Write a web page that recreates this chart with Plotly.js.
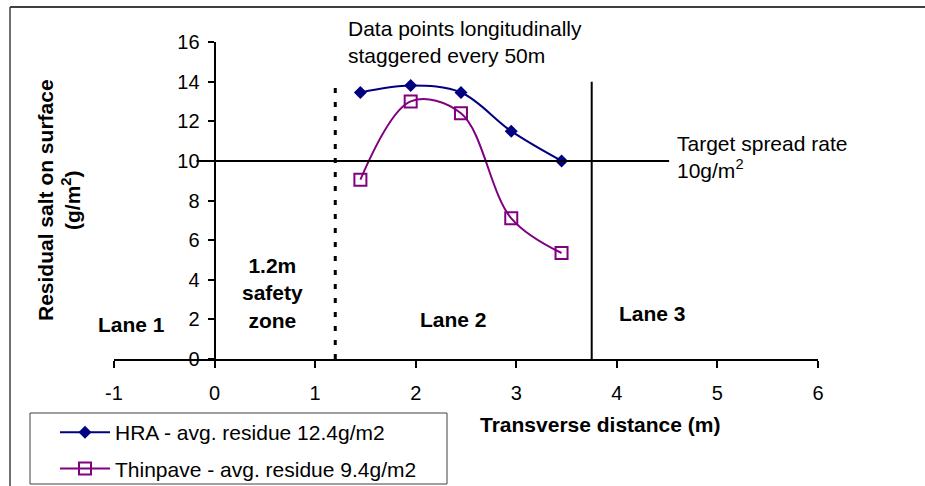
<!DOCTYPE html>
<html>
<head>
<meta charset="utf-8">
<script src="https://cdn.plot.ly/plotly-3.0.1.min.js"></script>
<style>html,body{margin:0;padding:0;background:#fff;}#chart{width:925px;height:486px;}</style>
</head>
<body>
<div id="chart"></div>
<script>
// ---- data ----
const transverseDistance = [1.45, 1.95, 2.45, 2.95, 3.45];
const hraResidue = [13.45, 13.8, 13.45, 11.5, 10.0];
const thinpaveResidue = [9.05, 13.0, 12.4, 7.1, 5.35];
const seriesNames = ["HRA - avg. residue 12.4g/m2", "Thinpave - avg. residue 9.4g/m2"];
const xTickValues = [-1, 0, 1, 2, 3, 4, 5, 6];
const yTickValues = [0, 2, 4, 6, 8, 10, 12, 14, 16];
const targetSpreadRate = 10;
const targetLineX = [-0.18, 4.52];
const safetyZoneEdge = 1.2;
const laneBoundary = 3.75;
const markerLineTop = 14;

// ---- layout helpers (pixel -> paper) ----
const W = 925, H = 486;
const M = {l: 114, r: 107, t: 42, b: 127, autoexpand: false};
const PW = W - M.l - M.r, PH = H - M.t - M.b;
const px = v => (v - M.l) / PW;
const py = v => (H - M.b - v) / PH;

const FONT = "Liberation Sans, Arial, sans-serif";

const traces = [
  {
    x: transverseDistance, y: hraResidue, name: seriesNames[0], legendgroup: "hra",
    type: "scatter", mode: "lines+markers",
    line: {color: "#000080", width: 2, shape: "spline", smoothing: 1},
    marker: {symbol: "diamond", size: 10, color: "#000080", line: {width: 0}}
  },
  {
    x: transverseDistance, y: thinpaveResidue, name: seriesNames[1], legendgroup: "thin",
    type: "scatter", mode: "lines+markers",
    line: {color: "#800080", width: 2, shape: "spline", smoothing: 1},
    marker: {symbol: "square-open", size: 12, color: "#800080", line: {width: 2, color: "#800080"}}
  }
];

const boldF = {family: FONT, size: 21, color: "#000"};
const regF = {family: FONT, size: 21, color: "#000"};

const annotations = [
  {x: 1.31, y: 16.0, xref: "x", yref: "y", text: "Data points longitudinally<br>staggered every 50m",
   showarrow: false, xanchor: "left", yanchor: "middle", align: "left", font: regF},
  {x: 4.58, y: 10.2, xref: "x", yref: "y", text: "Target spread rate<br>10g/m<sup>2</sup>",
   showarrow: false, xanchor: "left", yanchor: "middle", align: "left", font: regF},
  {x: -0.826, y: 1.72, xref: "x", yref: "y", text: "<b>Lane 1</b>", showarrow: false,
   xanchor: "center", yanchor: "middle", font: boldF},
  {x: 0.577, y: 3.33, xref: "x", yref: "y", text: "<b>1.2m<br>safety<br>zone</b>", showarrow: false,
   xanchor: "center", yanchor: "middle", font: boldF},
  {x: 2.38, y: 2.0, xref: "x", yref: "y", text: "<b>Lane 2</b>", showarrow: false,
   xanchor: "center", yanchor: "middle", font: boldF},
  {x: 4.35, y: 2.32, xref: "x", yref: "y", text: "<b>Lane 3</b>", showarrow: false,
   xanchor: "center", yanchor: "middle", font: boldF},
  {x: px(600), y: py(424), xref: "paper", yref: "paper", text: "<b>Transverse distance (m)</b>",
   showarrow: false, xanchor: "center", yanchor: "middle", font: {family: FONT, size: 21, color: "#000"}},
  {x: px(59), y: py(200), xref: "paper", yref: "paper", text: "<b>Residual salt on surface<br>(g/m<sup>2</sup>)</b>",
   showarrow: false, textangle: -90, xanchor: "center", yanchor: "middle",
   font: {family: FONT, size: 21, color: "#000"}}
];

const shapes = [
  {type: "line", xref: "x", yref: "y", x0: targetLineX[0], x1: targetLineX[1], y0: targetSpreadRate, y1: targetSpreadRate,
   line: {color: "#000", width: 2}},
  {type: "line", xref: "x", yref: "y", x0: safetyZoneEdge, x1: safetyZoneEdge, y0: 0, y1: markerLineTop,
   line: {color: "#000", width: 3, dash: "5px,9px"}},
  {type: "line", xref: "x", yref: "y", x0: laneBoundary, x1: laneBoundary, y0: 0, y1: markerLineTop,
   line: {color: "#000", width: 2}},
  // outer chart frame (top and left)
  {type: "line", xref: "paper", yref: "paper", x0: px(10), x1: px(925), y0: py(7), y1: py(7),
   line: {color: "#404040", width: 2}},
  {type: "line", xref: "paper", yref: "paper", x0: px(10), x1: px(10), y0: py(7), y1: py(490),
   line: {color: "#404040", width: 1.5}},
  // legend box
  {type: "rect", xref: "paper", yref: "paper", x0: px(30), x1: px(447), y0: py(413), y1: py(484),
   line: {color: "#404040", width: 1}, fillcolor: "rgba(0,0,0,0)"}
];

const layout = {
  width: W, height: H,
  margin: M,
  paper_bgcolor: "#fff", plot_bgcolor: "#fff",
  font: {family: FONT, size: 20, color: "#000"},
  showlegend: true,
  legend: {x: px(55), y: py(412), xanchor: "left", yanchor: "top",
           traceorder: "grouped", tracegroupgap: 6,
           bgcolor: "rgba(0,0,0,0)", borderwidth: 0, itemwidth: 50,
           font: {family: FONT, size: 21, color: "#000"}},
  xaxis: {range: [-1, 6], tickvals: xTickValues, ticktext: xTickValues.map(String),
          showgrid: false, zeroline: false, showline: true, linecolor: "#000", linewidth: 2,
          ticks: "outside", ticklen: 7, tickwidth: 2, tickcolor: "#000", anchor: "y",
          ticklabelstandoff: 8,
          tickfont: {family: FONT, size: 20, color: "#000"}},
  yaxis: {range: [0, 16], tickvals: yTickValues, ticktext: yTickValues.map(String),
          showgrid: false, zeroline: false, showline: true, linecolor: "#000", linewidth: 2,
          ticks: "outside", ticklen: 6, tickwidth: 2, tickcolor: "#000",
          anchor: "free", position: 1 / 7, ticklabelstandoff: 4,
          tickfont: {family: FONT, size: 20, color: "#000"}},
  annotations: annotations,
  shapes: shapes
};

Plotly.newPlot("chart", traces, layout, {displayModeBar: false, staticPlot: true});
</script>
</body>
</html>
